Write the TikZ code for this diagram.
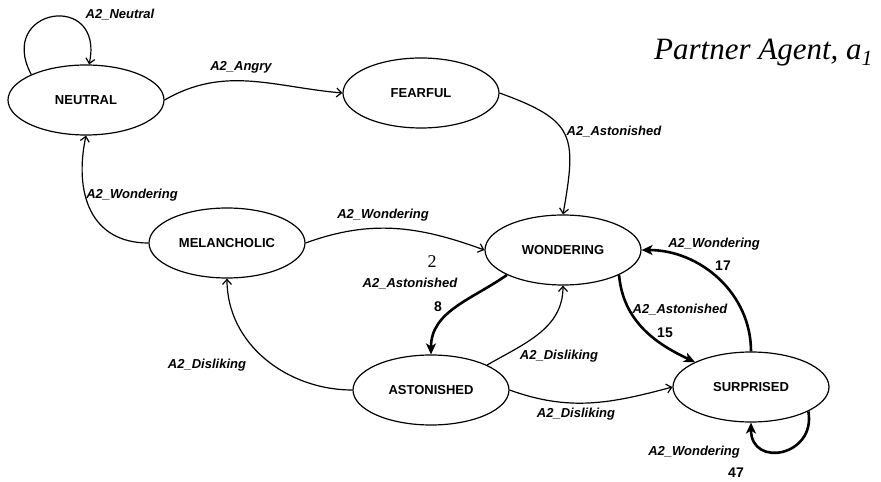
\documentclass[tikz,border=0pt]{standalone}
\usepackage{fontspec}
\setmainfont{Liberation Serif}
\setsansfont{Liberation Sans}
\usetikzlibrary{positioning,shapes,arrows.meta}

\begin{document}
\begin{tikzpicture}[x=1pt,y=1pt,
                    state node/.style={ellipse,draw,line width=1.2pt,inner sep=1pt,
                                       minimum width=156pt,minimum height=70pt,
                                       font=\sffamily\bfseries\fontsize{13}{15}\selectfont},
                    trans/.style={-{Straight Barb[length=5pt,width=9pt]},line width=1.2pt},
                    hot/.style={-{Stealth[length=11pt,width=10pt,inset=3pt]},line width=2.6pt},
                    edge label/.style={font=\sffamily\bfseries\itshape\fontsize{13}{15}\selectfont,
                                       inner sep=0pt},
                    count/.style={font=\sffamily\bfseries\fontsize{14}{16}\selectfont,inner sep=0pt}
                   ]
   \useasboundingbox (0,0) rectangle (881,482);
   % states
   \node[state node] (neutral)     at (86,382)  {NEUTRAL};
   \node[state node] (fearful)     at (421,389) {FEARFUL};
   \node[state node] (melancholic) at (227,239) {MELANCHOLIC};
   \node[state node] (wondering)   at (563,232) {WONDERING};
   \node[state node] (astonished)  at (431,92)  {ASTONISHED};
   \node[state node] (surprised)   at (751,95)  {SURPRISED};
   \node[anchor=base west,inner sep=0pt,font=\fontsize{31}{34}\selectfont\itshape]
        (title) at (654,422) {Partner Agent, a\textsubscript{1}};
   % transition labels
   \node[edge label] (lneutral) at (120,467) {A2\_Neutral};
   \node[edge label] (langry)   at (241,415) {A2\_Angry};
   \node[edge label] (lfear)    at (614,350) {A2\_Astonished};
   \node[edge label] (lmelneu)  at (132,287) {A2\_Wondering};
   \node[edge label] (lmelwon)  at (383,267) {A2\_Wondering};
   \node[edge label] (lwonast)  at (410,198) {A2\_Astonished};
   \node[inner sep=0pt,font=\fontsize{18}{20}\selectfont] (ltwo) at (432,220) {2};
   \node[count] (neight)        at (438,175) {8};
   \node[edge label] (lastwon)  at (559,126) {A2\_Disliking};
   \node[edge label] (lastmel)  at (207,117) {A2\_Disliking};
   \node[edge label] (lastsur)  at (576,68)  {A2\_Disliking};
   \node[edge label] (lwonsur)  at (680,172) {A2\_Astonished};
   \node[count] (nfifteen)      at (665,149) {15};
   \node[edge label] (lsurwon)  at (714,238) {A2\_Wondering};
   \node[count] (nseventeen)    at (723,216) {17};
   \node[edge label] (lsurself) at (694,30)  {A2\_Wondering};
   \node[count] (nfortyseven)   at (736,9)   {47};
   \path%
    (neutral.155) edge [trans,out=118,in=78,looseness=3.3] (neutral.85)
    (neutral.east) edge [trans,out=30,in=175] (fearful.west)
    (fearful.east) edge [trans,out=-20,in=80,looseness=1.5] (wondering.north)
    (melancholic.west) edge [trans,out=180,in=-102,looseness=1.2] (neutral.south)
    (melancholic.east) edge [trans,out=20,in=160] (wondering.west)
    (wondering.204) edge [hot,out=215,in=90] (astonished.north)
    (astonished.24) edge [trans,out=30,in=-90] (wondering.south)
    (astonished.west) edge [trans,out=180,in=-90] (melancholic.south)
    (astonished.east) edge [trans,out=-20,in=195] (surprised.west)
    (wondering.-24) edge [hot,out=-85,in=155] (surprised.156)
    (surprised.north) edge [hot,out=90,in=0] (wondering.east)
    (surprised.-23) edge [hot,out=-80,in=-90,looseness=2] (surprised.south);
\end{tikzpicture}
\end{document}
